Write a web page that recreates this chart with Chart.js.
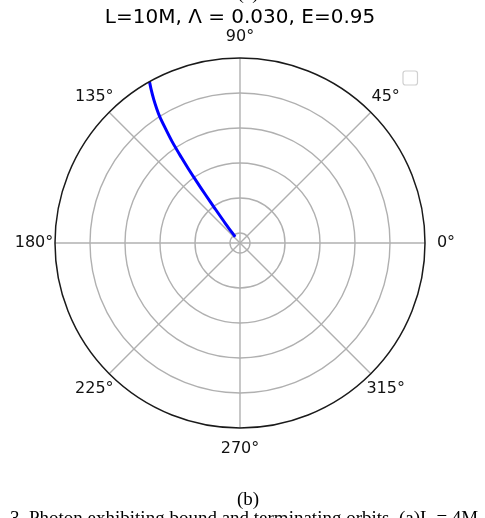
<!DOCTYPE html>
<html>
<head>
<meta charset="utf-8">
<script src="https://cdn.jsdelivr.net/npm/chart.js@4.4.1/dist/chart.umd.min.js"></script>
<style>
  html, body { margin: 0; padding: 0; background: #ffffff; }
  #wrap { width: 485px; height: 518px; overflow: hidden; }
</style>
</head>
<body>
<div id="wrap"><canvas id="c" width="485" height="518"></canvas></div>
<script>
// ---- data ----
const titleText = 'L=10M, \u039B = 0.030, E=0.95';
const thetaTicks = [0, 45, 90, 135, 180, 225, 270, 315];
const thetaLabels = ['0\u00B0', '45\u00B0', '90\u00B0', '135\u00B0', '180\u00B0', '225\u00B0', '270\u00B0', '315\u00B0'];
const radialTicks = [10, 20, 30, 40, 50];
const rOrigin = 7.14;
const rMax = 60;
const orbitR = [9.4, 14, 19.4, 24, 28.6, 33, 36.9, 42, 46.6, 50, 52.3, 55, 58, 60];
const orbitTheta = [128, 126.8, 126, 125.6, 125.2, 124.8, 124.4, 123.8, 123, 122.4, 121.8, 121, 120, 119.3];
const panelAbove = '(a)';
const panelLabel = '(b)';
const captionText = '3. Photon exhibiting bound and terminating orbits. (a)L = 4M';

const deg = Math.PI / 180;
const orbitPoints = orbitR.map((r, i) => ({
  x: (r - rOrigin) * Math.cos(orbitTheta[i] * deg),
  y: (r - rOrigin) * Math.sin(orbitTheta[i] * deg)
}));
const span = rMax - rOrigin;

const polarPlugin = {
  id: 'polarGrid',
  beforeDatasetsDraw(chart) {
    const ctx = chart.ctx, xs = chart.scales.x, ys = chart.scales.y;
    const cx = xs.getPixelForValue(0), cy = ys.getPixelForValue(0);
    ctx.save();
    ctx.strokeStyle = '#b0b0b0';
    ctx.lineWidth = 1.4;
    radialTicks.forEach(t => {
      const rad = xs.getPixelForValue(t - rOrigin) - cx;
      ctx.beginPath();
      ctx.arc(cx, cy, rad, 0, 2 * Math.PI);
      ctx.stroke();
    });
    thetaTicks.forEach(a => {
      ctx.beginPath();
      ctx.moveTo(cx, cy);
      ctx.lineTo(xs.getPixelForValue(span * Math.cos(a * deg)), ys.getPixelForValue(span * Math.sin(a * deg)));
      ctx.stroke();
    });
    ctx.restore();
  },
  afterDatasetsDraw(chart) {
    const ctx = chart.ctx, xs = chart.scales.x, ys = chart.scales.y;
    const cx = xs.getPixelForValue(0), cy = ys.getPixelForValue(0);
    const R = xs.getPixelForValue(span) - cx;
    ctx.save();
    ctx.strokeStyle = '#1a1a1a';
    ctx.lineWidth = 1.5;
    ctx.beginPath();
    ctx.arc(cx, cy, R, 0, 2 * Math.PI);
    ctx.stroke();
    // angle labels
    ctx.fillStyle = '#111111';
    ctx.font = '16px "DejaVu Sans"';
    ctx.textAlign = 'center';
    ctx.textBaseline = 'middle';
    const LR = R + 21;
    thetaTicks.forEach((a, i) => {
      ctx.fillText(thetaLabels[i], cx + LR * Math.cos(a * deg), cy - LR * Math.sin(a * deg));
    });
    // empty legend frame
    ctx.strokeStyle = '#d0d0d0';
    ctx.fillStyle = '#ffffff';
    ctx.lineWidth = 1.2;
    ctx.beginPath();
    ctx.roundRect(403, 71, 14.5, 14, 2.5);
    ctx.fill();
    ctx.stroke();
    // panel labels and caption
    ctx.fillStyle = '#000000';
    ctx.font = '19px "Liberation Serif"';
    ctx.textBaseline = 'alphabetic';
    ctx.textAlign = 'center';
    ctx.fillText(panelAbove, 248, -1);
    ctx.fillText(panelLabel, 248, 505);
    ctx.textAlign = 'left';
    ctx.fillText(captionText, 10, 524);
    ctx.restore();
  }
};

new Chart(document.getElementById('c'), {
  type: 'scatter',
  data: {
    datasets: [{
      data: orbitPoints,
      showLine: true,
      borderColor: '#0000ff',
      borderWidth: 3,
      pointRadius: 0,
      tension: 0.3,
      fill: false
    }]
  },
  options: {
    responsive: false,
    animation: false,
    devicePixelRatio: 1,
    layout: { padding: { left: 55, right: 60, top: 0, bottom: 90 } },
    scales: {
      x: { type: 'linear', min: -span, max: span, display: false },
      y: { type: 'linear', min: -span, max: span, display: false }
    },
    plugins: {
      legend: { display: false },
      tooltip: { enabled: false },
      title: {
        display: true,
        text: titleText,
        color: '#000000',
        font: { family: 'DejaVu Sans', size: 20, weight: 'normal', lineHeight: 1.2 },
        padding: { top: 6, bottom: 28 }
      }
    }
  },
  plugins: [polarPlugin]
});
</script>
</body>
</html>
